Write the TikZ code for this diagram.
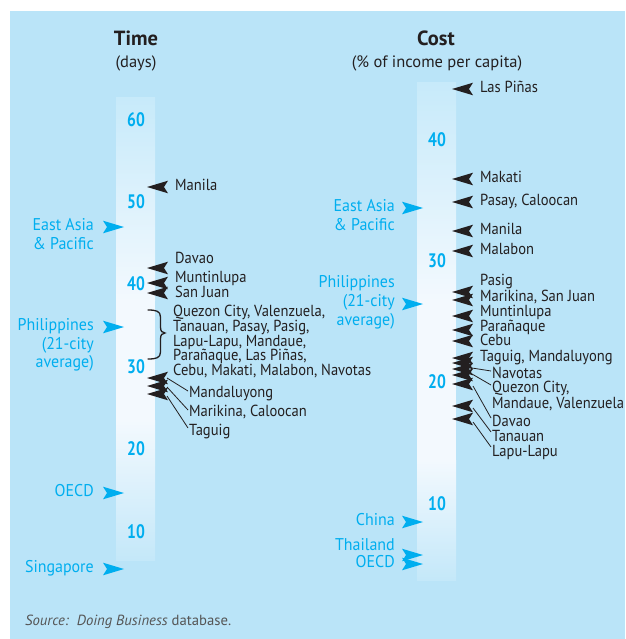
\documentclass[tikz,border=0pt]{standalone}
\usepackage{fontspec}
\setmainfont{PT Sans}
\newfontfamily\cityfont[FakeStretch=0.91]{PT Sans}
\newfontfamily\regfont[FakeStretch=0.94]{PT Sans}
\newfontfamily\numfont[FakeStretch=0.8]{PT Sans}
\usetikzlibrary{calc}
\definecolor{bgblue}{RGB}{186,228,248}
\definecolor{cyanA}{RGB}{0,174,239}
\definecolor{ink}{RGB}{35,31,32}
\definecolor{barTop}{RGB}{199,234,250}
\definecolor{barMid}{RGB}{243,249,254}
\definecolor{barBot}{RGB}{196,232,249}
\definecolor{srcgray}{RGB}{85,85,85}
\begin{document}
\begin{tikzpicture}[x=1pt,y=-1pt,
  lbl/.style={inner sep=0pt, text height=0.7em, text depth=0pt},
  city/.style={lbl, anchor=west, text=ink, font=\cityfont\fontsize{16}{16}\selectfont},
  reg/.style={lbl, anchor=east, text=cyanA, font=\regfont\fontsize{17}{17}\selectfont},
  num/.style={lbl, text=cyanA, font=\numfont\fontsize{19.5}{19.5}\selectfont\bfseries},
  head/.style={lbl, text=ink, font=\fontsize{20.5}{20.5}\selectfont\bfseries},
  sub/.style={lbl, text=ink, font=\fontsize{16.5}{16.5}\selectfont},
  leader/.style={draw=ink, line width=0.8pt},
  larrow/.pic={\fill[ink] (0,0) -- (21,-6.3) -- (17,0) -- (21,6.3) -- cycle;},
  rarrow/.pic={\fill[cyanA] (0,0) -- (-21,-6.3) -- (-17,0) -- (-21,6.3) -- cycle;},
]
\useasboundingbox (0,0) rectangle (625,639);
\fill[bgblue] (10,11) rectangle (625,639);

% bars
\shade[top color=barTop, bottom color=barMid] (116,98) rectangle (155,300.5);
\fill[barMid] (116,300) rectangle (155,420.5);
\shade[top color=barMid, bottom color=barBot] (116,420) rectangle (155,560);
\shade[top color=barTop, bottom color=barMid] (417,83) rectangle (456,300.5);
\fill[barMid] (417,300) rectangle (456,460.5);
\shade[top color=barMid, bottom color=barBot] (417,460) rectangle (456,580);

% headings
\node[head] (timeh) at (136,42) {Time};
\node[sub] (timesub) at (136,64) {(days)};
\node[head] (costh) at (436,42) {Cost};
\node[sub] (costsub) at (437,64) {(\% of income per capita)};

% left axis numbers
\node[num] (l60) at (136,123) {60};
\node[num] (l50) at (136,205) {50};
\node[num] (l40) at (136,287) {40};
\node[num] (l30) at (136,370) {30};
\node[num] (l20) at (136,452) {20};
\node[num] (l10) at (136,535) {10};

% right axis numbers
\node[num] (r40) at (437,143) {40};
\node[num] (r30) at (437,264) {30};
\node[num] (r20) at (437,385) {20};
\node[num] (r10) at (437,507) {10};

% left regional markers
\node[reg] (leap1) at (94,227) {East Asia};
\node[reg] (leap2) at (94,246) {\& Pacific};
\pic at (124,227) {rarrow};
\node[reg] (lph1) at (94,327) {Philippines};
\node[reg] (lph2) at (94,346) {(21-city};
\node[reg] (lph3) at (94,364) {average)};
\pic at (124,327) {rarrow};
\node[reg] (loecd) at (94,493) {OECD};
\pic at (124,493) {rarrow};
\node[reg] (lsing) at (94,569) {Singapore};
\pic at (124,569) {rarrow};

% left city markers
\pic at (147,187) {larrow};
\node[city] (lmanila) at (175,187) {Manila};
\pic at (147,268) {larrow};
\node[city] (ldavao) at (175,260) {Davao};
\pic at (147,283) {larrow};
\node[city] (lmunt) at (175,279) {Muntinlupa};
\pic at (147,293) {larrow};
\node[city] (lsanj) at (175,294) {San Juan};

\draw[ink, line width=1.3pt, line cap=round]
  (148,310) .. controls (156,310) and (160.5,311) .. (160.5,317)
  -- (160.5,327) .. controls (160.5,331) and (162,333) .. (165,333)
  .. controls (162,333) and (160.5,335) .. (160.5,339)
  -- (160.5,352) .. controls (160.5,358) and (156,359) .. (148,359);
\node[city] (lg1) at (173,313) {Quezon City, Valenzuela,};
\node[city] (lg2) at (173,328) {Tanauan, Pasay, Pasig,};
\node[city] (lg3) at (173,343) {Lapu-Lapu, Mandaue,};
\node[city] (lg4) at (173,357) {Parañaque, Las Piñas,};
\node[city] (lg5) at (173,372) {Cebu, Makati, Malabon, Navotas};

\pic at (147,378) {larrow};
\pic at (147,386) {larrow};
\pic at (147,394) {larrow};
\coordinate (lb1) at (167,378);
\coordinate (lb2) at (167,387);
\coordinate (lb3) at (167,396);
\node[city] (lmand) at (189,394) {Mandaluyong};
\node[city] (lmari) at (189,413) {Marikina, Caloocan};
\node[city] (ltag) at (189,432) {Taguig};
\draw[leader] (lb1) -- ([xshift=-1pt,yshift=3pt]lmand.west);
\draw[leader] (lb2) -- ([xshift=-1pt,yshift=3pt]lmari.west);
\draw[leader] (lb3) -- ([xshift=-1pt,yshift=4pt]ltag.west);

% right regional markers
\node[reg] (reap1) at (395,208) {East Asia};
\node[reg] (reap2) at (395,227) {\& Pacific};
\pic at (423,208) {rarrow};
\node[reg] (rph1) at (395,284) {Philippines};
\node[reg] (rph2) at (395,303) {(21-city};
\node[reg] (rph3) at (395,322) {average)};
\pic at (423,304) {rarrow};
\node[reg] (rchina) at (395,522) {China};
\pic at (423,522) {rarrow};
\node[reg] (rthai) at (395,547) {Thailand};
\node[reg] (roecd) at (395,564) {OECD};
\pic at (423,555) {rarrow};
\pic at (423,564) {rarrow};

% right city markers
\pic at (452,89) {larrow};
\node[city] (rlasp) at (480,89) {Las Piñas};
\pic at (452,179) {larrow};
\node[city] (rmak) at (480,179) {Makati};
\pic at (452,202) {larrow};
\node[city] (rpas) at (480,202) {Pasay, Caloocan};
\pic at (452,231) {larrow};
\node[city] (rman) at (480,231) {Manila};
\pic at (452,251) {larrow};
\node[city] (rmal) at (480,251) {Malabon};

\pic at (452,292) {larrow};
\pic at (452,300) {larrow};
\node[city] (rpasig) at (480,282) {Pasig};
\node[city] (rmari) at (480,298) {Marikina, San Juan};
\pic at (452,316) {larrow};
\node[city] (rmunt) at (480,313) {Muntinlupa};
\pic at (452,330) {larrow};
\node[city] (rpar) at (480,328) {Parañaque};
\pic at (452,341) {larrow};
\node[city] (rcebu) at (480,342) {Cebu};
\pic at (452,358) {larrow};
\pic at (452,363) {larrow};
\node[city] (rtag) at (480,358) {Taguig, Mandaluyong};
\pic at (452,369) {larrow};
\pic at (452,375) {larrow};
\pic at (452,384) {larrow};
\pic at (452,406) {larrow};
\pic at (452,419) {larrow};
\coordinate (rb1) at (472,368);
\coordinate (rb2) at (472,374);
\coordinate (rb3) at (473,386);
\coordinate (rb4) at (473,408);
\coordinate (rb5) at (473,422);
\node[city] (rnav) at (492,375) {Navotas};
\node[city] (rquez) at (492,389) {Quezon City,};
\node[city] (rmandv) at (492,405) {Mandaue, Valenzuela};
\node[city] (rdav) at (492,423) {Davao};
\node[city] (rtan) at (492,438) {Tanauan};
\node[city] (rlapu) at (492,453) {Lapu-Lapu};
\draw[leader] (rb1) -- ([xshift=-1pt,yshift=4pt]rnav.west);
\draw[leader] (rb2) -- ([xshift=-1pt,yshift=4pt]rquez.west);
\draw[leader] (rb3) -- ([xshift=-1pt,yshift=5pt]rdav.west);
\draw[leader] (rb4) -- ([xshift=-1pt,yshift=6pt]rtan.west);
\draw[leader] (rb5) -- ([xshift=-1pt,yshift=6pt]rlapu.west);

% source
\node[lbl, anchor=west, text=srcgray, font=\fontsize{14.7}{14.7}\selectfont] (src) at (25,622)
  {\textit{Source:}\ \ \textit{Doing Business} database.};
\end{tikzpicture}
\end{document}
